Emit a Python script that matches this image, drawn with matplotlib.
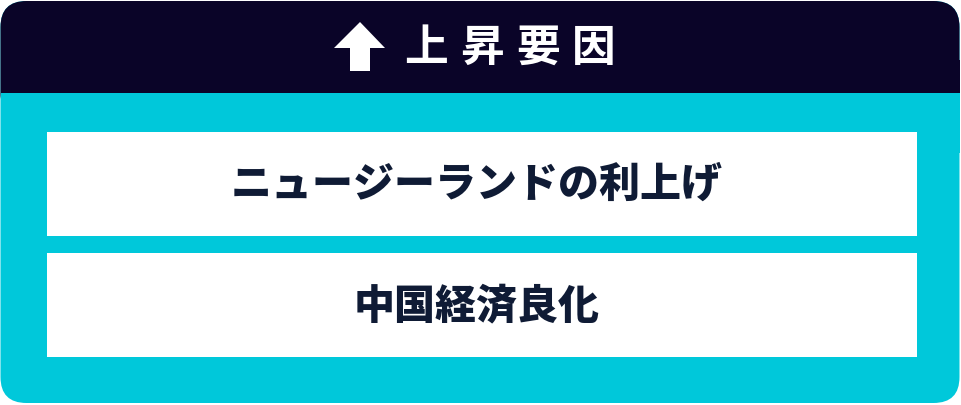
import matplotlib
matplotlib.use("Agg")
import matplotlib.pyplot as plt
from matplotlib.patches import FancyBboxPatch, Rectangle, Polygon

plt.rcParams['font.family'] = ['Noto Sans CJK JP', 'DejaVu Sans']

# content
header_chars = ["上", "昇", "要", "因"]
factors = ["ニュージーランドの利上げ", "中国経済良化"]

navy = "#0a0428"
cyan = "#00c8da"
text_col = "#0f1b35"

fig = plt.figure(figsize=(9.61, 4.05), dpi=100)
ax = fig.add_axes([0, 0, 1, 1])
ax.set_xlim(0, 961)
ax.set_ylim(405, 0)
ax.axis("off")

# outer rounded panel (cyan), then navy header on top
r = 26
outer = FancyBboxPatch((0.5 + r, 1 + r), 959 - 2 * r, 402 - 2 * r,
                       boxstyle="round,pad=%d" % r, fc=cyan, ec="none")
ax.add_patch(outer)
head = FancyBboxPatch((0.5 + r, 1 + r), 959 - 2 * r, 92 - r,
                      boxstyle="round,pad=%d" % r, fc=navy, ec="none")
ax.add_patch(head)
ax.add_patch(Rectangle((0.5, 60), 959, 33, fc=navy, ec="none"))
ax.add_patch(Rectangle((0.5, 93), 959, 60, fc=cyan, ec="none"))

# arrow
arrow = Polygon([(360, 22), (385, 48), (370, 48), (370, 71),
                 (350, 71), (350, 48), (334, 48)], closed=True,
                fc="white", ec="none")
ax.add_patch(arrow)

# header title, spaced out
x0 = 426
for i, ch in enumerate(header_chars):
    ax.text(x0 + i * 56, 48, ch, color="white", fontsize=31.5,
            fontweight="bold", ha="center", va="center")

# factor boxes
box_top = [132, 253]
for i, label in enumerate(factors):
    y = box_top[i]
    ax.add_patch(Rectangle((47, y), 870, 104, fc="white", ec="none"))
    ax.text(477, y + 53, label, color=text_col, fontsize=29.5,
            fontweight="black", ha="center", va="center")

fig.savefig("out.png", dpi=100)
